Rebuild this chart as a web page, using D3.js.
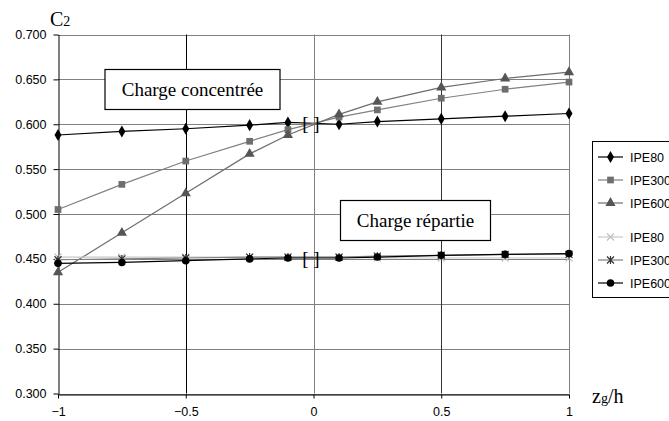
<!DOCTYPE html>
<html>
<head>
<meta charset="utf-8">
<script src="https://cdn.jsdelivr.net/npm/d3@7"></script>
<style>
  body { margin: 0; background: #fff; }
  svg { display: block; }
</style>
</head>
<body>
<div id="viz"></div>
<script>
(function () {
  'use strict';

  // abscissa zg/h
  var xs = [-1, -0.75, -0.5, -0.25, -0.1, 0.1, 0.25, 0.5, 0.75, 1];

  // charge concentree
  var concIPE80 = [0.588, 0.592, 0.595, 0.599, 0.602, 0.600, 0.603, 0.606, 0.609, 0.612];
  var concIPE300 = [0.505, 0.533, 0.559, 0.581, 0.594, 0.608, 0.616, 0.629, 0.639, 0.647];
  var concIPE600 = [0.435, 0.479, 0.523, 0.567, 0.588, 0.611, 0.625, 0.641, 0.651, 0.658];

  // charge repartie
  var repIPE80 = [0.452, 0.452, 0.452, 0.452, 0.452, 0.452, 0.451, 0.451, 0.451, 0.451];
  var repIPE300 = [0.449, 0.450, 0.451, 0.452, 0.452, 0.452, 0.453, 0.454, 0.455, 0.455];
  var repIPE600 = [0.445, 0.446, 0.448, 0.450, 0.451, 0.451, 0.452, 0.454, 0.455, 0.456];

  var xTicks = [-1, -0.5, 0, 0.5, 1];
  var yTicks = [0.300, 0.350, 0.400, 0.450, 0.500, 0.550, 0.600, 0.650, 0.700];

  var W = 669, H = 421;
  var left = 58, right = 569, top = 34.5, bottom = 393.5;

  var x = d3.scaleLinear().domain([-1, 1]).range([left, right]);
  var y = d3.scaleLinear().domain([0.3, 0.7]).range([bottom, top]);

  var svg = d3.select('#viz').append('svg')
    .attr('width', W).attr('height', H);

  svg.append('rect').attr('width', W).attr('height', H).attr('fill', '#fff');

  // grid
  svg.append('g').selectAll('line').data(yTicks).enter().append('line')
    .attr('x1', left).attr('x2', right)
    .attr('y1', function (d) { return Math.round(y(d)) + 0.5; })
    .attr('y2', function (d) { return Math.round(y(d)) + 0.5; })
    .attr('stroke', '#808080').attr('stroke-width', 1);

  svg.append('g').selectAll('line').data([-0.5, 0, 0.5, 1]).enter().append('line')
    .attr('x1', function (d) { return Math.round(x(d)) + 0.5; })
    .attr('x2', function (d) { return Math.round(x(d)) + 0.5; })
    .attr('y1', top).attr('y2', bottom)
    .attr('stroke', function (d) { return d === -0.5 ? '#000' : d === 0.5 ? '#333' : '#808080'; })
    .attr('stroke-width', 1);

  // axes
  var yAxis = d3.axisLeft(y).tickValues(yTicks).tickFormat(d3.format('.3f'))
    .tickSize(5).tickSizeOuter(0);
  var gy = svg.append('g').attr('transform', 'translate(' + (left + 0.5) + ',0)').call(yAxis);
  gy.selectAll('text').attr('font-family', 'Liberation Sans, Arial, sans-serif')
    .attr('font-size', 12.5).attr('fill', '#000').attr('dx', '-4');

  var xAxis = d3.axisBottom(x).tickValues(xTicks).tickFormat(d3.format('')).tickSize(4).tickSizeOuter(0);
  var gx = svg.append('g').attr('transform', 'translate(0,' + (Math.round(bottom) + 0.5) + ')').call(xAxis);
  gx.selectAll('text').attr('font-family', 'Liberation Sans, Arial, sans-serif')
    .attr('font-size', 12.5).attr('fill', '#000').attr('dy', '1.15em');
  svg.selectAll('.domain').attr('stroke', '#000');
  svg.selectAll('.tick line').attr('stroke', '#000');

  // markers
  function sym(type, size) {
    return d3.symbol().type(type).size(size)();
  }
  var xMark = 'M-3.5,-3.5L3.5,3.5M-3.5,3.5L3.5,-3.5';
  var star = 'M-3.5,-3.5L3.5,3.5M-3.5,3.5L3.5,-3.5M0,-4L0,4';

  var series = [
    { name: 'IPE80', v: concIPE80, line: '#000', mark: sym(d3.symbolDiamond, 42), fill: '#000', stroke: 'none' },
    { name: 'IPE300', v: concIPE300, line: '#808080', mark: sym(d3.symbolSquare, 45), fill: '#6e6e6e', stroke: 'none' },
    { name: 'IPE600', v: concIPE600, line: '#6e6e6e', mark: sym(d3.symbolTriangle, 45), fill: '#555', stroke: 'none' },
    { name: 'IPE80', v: repIPE80, line: '#c8c8c8', mark: xMark, fill: 'none', stroke: '#c0c0c0' },
    { name: 'IPE300', v: repIPE300, line: '#808080', mark: star, fill: 'none', stroke: '#333' },
    { name: 'IPE600', v: repIPE600, line: '#000', mark: sym(d3.symbolCircle, 45), fill: '#000', stroke: 'none' }
  ];

  var line = d3.line()
    .x(function (d) { return x(d[0]); })
    .y(function (d) { return y(d[1]); });

  series.forEach(function (s) {
    var pts = xs.map(function (xv, i) { return [xv, s.v[i]]; });
    svg.append('path').attr('d', line(pts))
      .attr('fill', 'none').attr('stroke', s.line).attr('stroke-width', 1.2);
    svg.append('g').selectAll('path').data(pts).enter().append('path')
      .attr('d', s.mark)
      .attr('transform', function (d) { return 'translate(' + x(d[0]) + ',' + y(d[1]) + ')'; })
      .attr('fill', s.fill).attr('stroke', s.stroke).attr('stroke-width', 1.2);
  });

  // brackets near zg/h = 0
  var brackets = [[-0.01, 0.600], [-0.01, 0.450]];
  svg.append('g').selectAll('text').data(brackets).enter().append('text')
    .attr('x', function (d) { return x(d[0]); })
    .attr('y', function (d) { return y(d[1]) + 6; })
    .attr('text-anchor', 'middle')
    .attr('font-family', 'Liberation Serif, Times New Roman, serif')
    .attr('font-size', 19)
    .text('[ ]');

  // annotation boxes
  var notes = [
    { text: 'Charge concentrée', x: 105, y: 69.5, w: 175, h: 40 },
    { text: 'Charge répartie', x: 340.5, y: 200.5, w: 150, h: 40 }
  ];
  notes.forEach(function (n) {
    svg.append('rect').attr('x', n.x).attr('y', n.y).attr('width', n.w).attr('height', n.h)
      .attr('fill', '#fff').attr('stroke', '#000').attr('stroke-width', 1.2);
    svg.append('text').attr('x', n.x + n.w / 2).attr('y', n.y + n.h / 2 + 6.5)
      .attr('text-anchor', 'middle')
      .attr('font-family', 'Liberation Serif, Times New Roman, serif')
      .attr('font-size', 19).text(n.text);
  });

  // axis titles
  var c2 = svg.append('text').attr('x', 50).attr('y', 26)
    .attr('font-family', 'Liberation Serif, Times New Roman, serif').attr('font-size', 20);
  c2.append('tspan').text('C');
  c2.append('tspan').attr('font-size', 14).text('2');

  var zg = svg.append('text').attr('x', 592).attr('y', 403)
    .attr('font-family', 'Liberation Serif, Times New Roman, serif').attr('font-size', 20);
  zg.append('tspan').text('z');
  zg.append('tspan').attr('font-size', 14).text('g');
  zg.append('tspan').text('/h');

  // legend
  var lg = svg.append('g');
  lg.append('rect').attr('x', 592.5).attr('y', 141.5).attr('width', 100).attr('height', 156)
    .attr('fill', '#fff').attr('stroke', '#000');
  series.forEach(function (s, i) {
    var ly = 157 + i * 23 + (i >= 3 ? 11 : 0);
    lg.append('line').attr('x1', 598).attr('x2', 623).attr('y1', ly).attr('y2', ly)
      .attr('stroke', s.line).attr('stroke-width', 1.2);
    lg.append('path').attr('d', s.mark).attr('transform', 'translate(610.5,' + ly + ')')
      .attr('fill', s.fill).attr('stroke', s.stroke).attr('stroke-width', 1.2);
    lg.append('text').attr('x', 630).attr('y', ly + 4.5)
      .attr('font-family', 'Liberation Sans, Arial, sans-serif').attr('font-size', 12.5)
      .text(s.name);
  });
}());
</script>
</body>
</html>
